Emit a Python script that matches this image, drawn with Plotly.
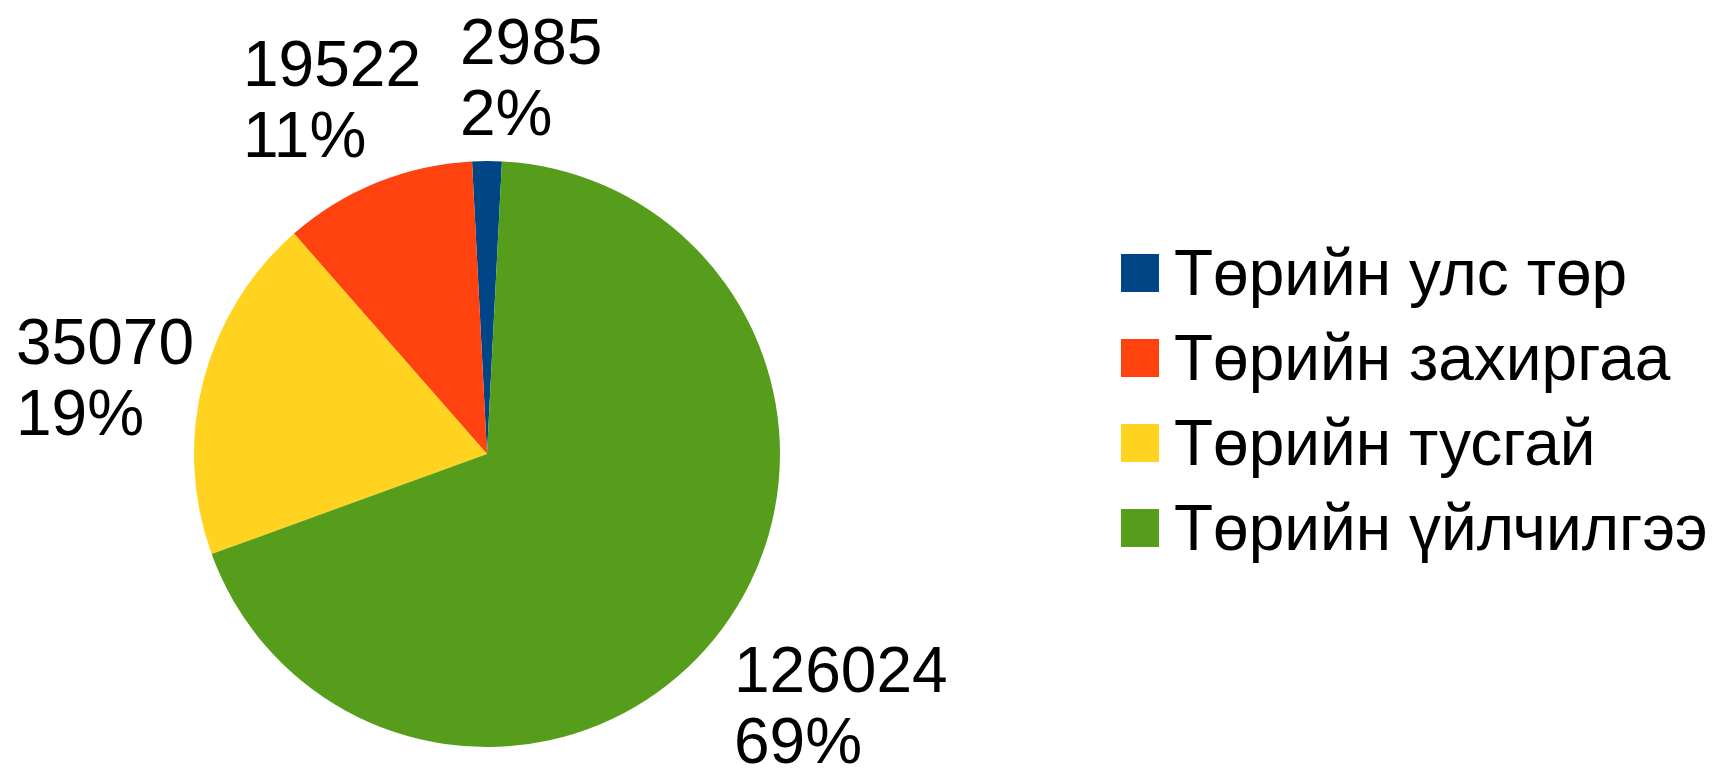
import math
import plotly.graph_objects as go

categories = ["Төрийн улс төр", "Төрийн захиргаа", "Төрийн тусгай", "Төрийн үйлчилгээ"]
values = [2985, 19522, 35070, 126024]
colors = ["#004586", "#ff420e", "#ffd320", "#579d1c"]

W, H = 1716, 770
OFF = 8  # page body margin compensation
FONT = "Liberation Sans, Arial, sans-serif"
LBL_SIZE = 64
LEG_SIZE = 64

# pie geometry (pixels, layout coords)
cx, cy, r = 487 - OFF, 454 - OFF, 293
total = sum(values)
half_first = values[0] / total * 360 / 2

fig = go.Figure()
fig.add_trace(go.Pie(
    labels=categories,
    values=values,
    marker=dict(colors=colors, line=dict(width=0)),
    sort=False,
    direction="counterclockwise",
    rotation=-half_first,
    textinfo="none",
    showlegend=False,
    domain=dict(x=[(cx - r) / W, (cx + r) / W], y=[(H - cy - r) / H, (H - cy + r) / H]),
    hoverinfo="label+value+percent",
))

# ---- outside data labels: value and percent, office-style placement ----
F = LBL_SIZE
ASC, DESC, CAP = 0.905 * F, 0.212 * F, 0.716 * F
pitch = 1.1 * F                 # baseline-to-baseline distance
box_h = ASC + pitch + DESC      # text box of a two-line label
anchor_d = r + 12               # anchor radius
min_gap = 0.6 * F


def text_w(s):
    return sum(0.889 * F if ch == "%" else 0.556 * F for ch in s)


boxes = []
acc = 0.0
for v in values:
    theta_deg = half_first - (acc + v / 2) / total * 360   # clockwise from 12 o'clock
    acc += v
    th = math.radians(theta_deg)
    ax, ay = cx + anchor_d * math.sin(th), cy - anchor_d * math.cos(th)
    l1, l2 = str(v), f"{round(v / total * 100)}%"
    bw = max(text_w(l1), text_w(l2))
    a = (90 - theta_deg) % 360   # counter-clockwise from 3 o'clock
    if a <= 22.5 or a >= 337.5:
        hx, vy = "right", "mid"
    elif a < 67.5:
        hx, vy = "right", "top"
    elif a < 112.5:
        hx, vy = "mid", "top"
    elif a <= 157.5:
        hx, vy = "left", "top"
    elif a <= 202.5:
        hx, vy = "left", "mid"
    elif a < 247.5:
        hx, vy = "left", "bottom"
    elif a < 292.5:
        hx, vy = "mid", "bottom"
    else:
        hx, vy = "right", "bottom"
    x0 = {"right": ax, "mid": ax - bw / 2, "left": ax - bw}[hx]
    y0 = {"top": ay - box_h, "mid": ay - box_h / 2, "bottom": ay}[vy]
    boxes.append([x0, y0, bw, l1, l2])

# push overlapping labels apart horizontally
for i in range(len(boxes)):
    for j in range(i + 1, len(boxes)):
        bi, bj = boxes[i], boxes[j]
        if bi[1] < bj[1] + box_h and bj[1] < bi[1] + box_h:
            left, right = (bi, bj) if bi[0] < bj[0] else (bj, bi)
            need = left[0] + left[2] + min_gap - right[0]
            if need > 0:
                left[0] -= need / 2
                right[0] += need / 2

for x0, y0, bw, l1, l2 in boxes:
    for k, line in enumerate((l1, l2)):
        yc = y0 + ASC + k * pitch - CAP / 2     # cap-height centre of the line
        fig.add_annotation(xref="paper", yref="paper", x=x0 / W, y=(H - yc) / H,
                           xanchor="left", yanchor="middle", showarrow=False,
                           text=line, font=dict(family=FONT, size=F, color="black"))

# ---- legend drawn as squares + text ----
leg_x0, sq = 1121 - OFF, 38
leg_y0, leg_dy = 273 - OFF, 85
for i, (cat, col) in enumerate(zip(categories, colors)):
    yc = leg_y0 + i * leg_dy
    fig.add_shape(type="rect", xref="paper", yref="paper",
                  x0=leg_x0 / W, x1=(leg_x0 + sq) / W,
                  y0=(H - yc - sq / 2) / H, y1=(H - yc + sq / 2) / H,
                  fillcolor=col, line=dict(width=0))
    fig.add_annotation(xref="paper", yref="paper", x=(1172 - OFF) / W, y=(H - yc) / H,
                       xanchor="left", yanchor="middle", showarrow=False,
                       text=cat, font=dict(family=FONT, size=LEG_SIZE, color="black"))

fig.update_layout(
    width=W, height=H,
    margin=dict(l=0, r=0, t=0, b=0),
    paper_bgcolor="white", plot_bgcolor="white",
    showlegend=False,
)
fig.write_html("out.html")
